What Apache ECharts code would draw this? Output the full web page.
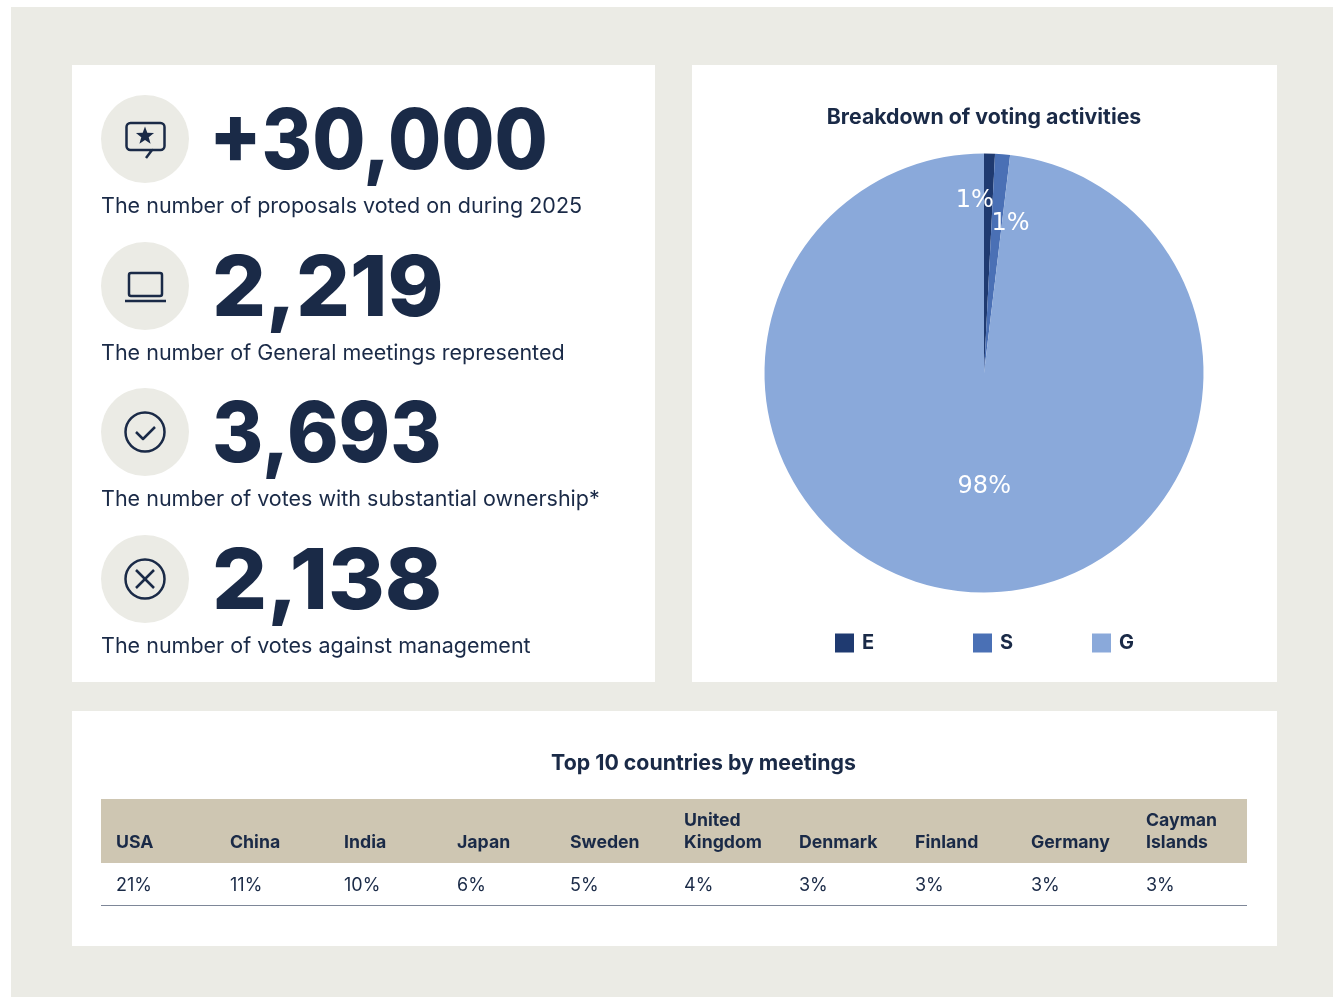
<!DOCTYPE html>
<html>
<head>
<meta charset="utf-8">
<title>Voting activities</title>
<style>
	html,body{margin:0;padding:0;background:#fff;}
	#main{width:1337px;height:998px;}
</style>
<script src="https://cdn.jsdelivr.net/npm/echarts@6/dist/echarts.min.js"></script>
</head>
<body>
<div id="main"></div>
<script>
// figures on the left
var statValues = ['+30,000', '2,219', '3,693', '2,138'];
var statCaptions = [
	'The number of proposals voted on during 2025',
	'The number of General meetings represented',
	'The number of votes with substantial ownership*',
	'The number of votes against management'
];
// pie
var pieNames = ['E', 'S', 'G'];
var pieValues = [0.8, 1.1, 98.1];
var pieLabels = ['1%', '1%', '98%'];
var pieColors = ['#1f3a70', '#4a70b5', '#8aa9da'];
// table
var countries = ['USA', 'China', 'India', 'Japan', 'Sweden', 'United\nKingdom', 'Denmark', 'Finland', 'Germany', 'Cayman\nIslands'];
var countryShares = ['21%', '11%', '10%', '6%', '5%', '4%', '3%', '3%', '3%', '3%'];

var navy = '#1a2a47';
var sand = '#ebebe5';
var font = 'Inter';

var statRows = [139, 286, 432, 579];
var statLeft = [209, 212, 212, 212];
var statStretch = [0.917, 1.01, 0.93, 1.03]; // Inter digits are not as even as the original face
var tableCols = [116, 230, 344, 457, 570, 684, 799, 915, 1031, 1146];
var legendCols = [835, 973, 1092];

var graphic = [];
function box(x, y, w, h, color){
	graphic.push({type:'rect', z:-1, silent:true, shape:{x:x, y:y, width:w, height:h}, style:{fill:color}});
}
function label(x, y, text, size, weight, va, sx){
	graphic.push({type:'text', silent:true, x:x, y:y, scaleX:sx || 1, style:{
		text:text, fill:navy, font:weight + ' ' + size + 'px ' + font, textAlign:'left', textVerticalAlign:va || 'middle', lineHeight:22
	}});
}
function stroke(shape, type){
	graphic.push({type:type, silent:true, shape:shape, style:{stroke:navy, lineWidth:2.5, fill:null, lineCap:'butt', lineJoin:'round'}});
}

box(11, 7, 1322, 990, sand);
box(72, 65, 583, 617, '#fff');
box(692, 65, 585, 617, '#fff');
box(72, 711, 1205, 235, '#fff');
box(101, 799, 1146, 64, '#cec6b2');
box(101, 905, 1146, 1, '#7e8798');

for(var i=0;i<statValues.length;i++){
	graphic.push({type:'circle', silent:true, shape:{cx:145, cy:statRows[i], r:44}, style:{fill:sand}});
	label(statLeft[i], statRows[i] + 5, statValues[i], 84, 800, 'middle', statStretch[i]);
	label(101, statRows[i] + 68, statCaptions[i], 21.5, 400);
}
// icons
stroke({x:126.5, y:123, width:38, height:27, r:4}, 'rect');
graphic.push({type:'rect', silent:true, shape:{x:143, y:147, width:9, height:6}, style:{fill:sand}});
stroke({points:[[143,150],[152,150],[146,158]]}, 'polyline');
var starPts = [];
for(var s=0;s<10;s++){
	var r = s % 2 ? 3.9 : 9.5;
	var a = -Math.PI/2 + s*Math.PI/5;
	starPts.push([145 + r*Math.cos(a), 136 + r*Math.sin(a)]);
}
graphic.push({type:'polygon', silent:true, shape:{points:starPts}, style:{fill:navy}});

stroke({x:129, y:273, width:33, height:23, r:2}, 'rect');
stroke({x1:125, y1:301, x2:166, y2:301}, 'line');

stroke({cx:145, cy:432, r:19.5}, 'circle');
stroke({points:[[136,432],[143,439],[155,427]]}, 'polyline');

stroke({cx:145, cy:579, r:19.5}, 'circle');
stroke({x1:136, y1:570, x2:154, y2:588}, 'line');
stroke({x1:154, y1:570, x2:136, y2:588}, 'line');

for(var c=0;c<countries.length;c++){
	label(tableCols[c], 854, countries[c], 17.7, 700, 'bottom');
	label(tableCols[c], 886, countryShares[c], 18, 400);
}

var pieData = [];
for(var p=0;p<pieNames.length;p++){
	pieData.push({name:pieNames[p], value:pieValues[p], itemStyle:{color:pieColors[p]}, label:{formatter:pieLabels[p]}});
}
var legends = [];
for(var l=0;l<pieNames.length;l++){
	legends.push({
		data:[pieNames[l]], left:legendCols[l], top:633, padding:0,
		itemWidth:19, itemHeight:19, icon:'rect', selectedMode:false,
		textStyle:{color:navy, fontFamily:font, fontWeight:700, fontSize:20, padding:[0,0,0,3]}
	});
}

var myChart = echarts.init(document.getElementById('main'), null, {renderer:'canvas'});
myChart.setOption({
	animation:false,
	title:[
		{text:'Breakdown of voting activities', left:984, top:107, textAlign:'center', padding:0,
			textStyle:{color:navy, fontFamily:font, fontWeight:700, fontSize:21.3}},
		{text:'Top 10 countries by meetings', left:703.5, top:753, textAlign:'center', padding:0,
			textStyle:{color:navy, fontFamily:font, fontWeight:700, fontSize:21.3}}
	],
	legend:legends,
	graphic:graphic,
	series:[{
		type:'pie',
		center:[984, 373],
		radius:[0, 219.5],
		startAngle:90,
		silent:true,
		data:pieData,
		label:{show:true, position:'inside', color:'#fff', fontFamily:'DejaVu Sans', fontSize:24},
		labelLine:{show:false},
		labelLayout:function(params){
			if(params.dataIndex == 0) return {dx:-12, dy:-60};
			if(params.dataIndex == 1) return {dx:17, dy:-37};
			return {dx:7, dy:1};
		}
	}]
});
</script>
</body>
</html>
